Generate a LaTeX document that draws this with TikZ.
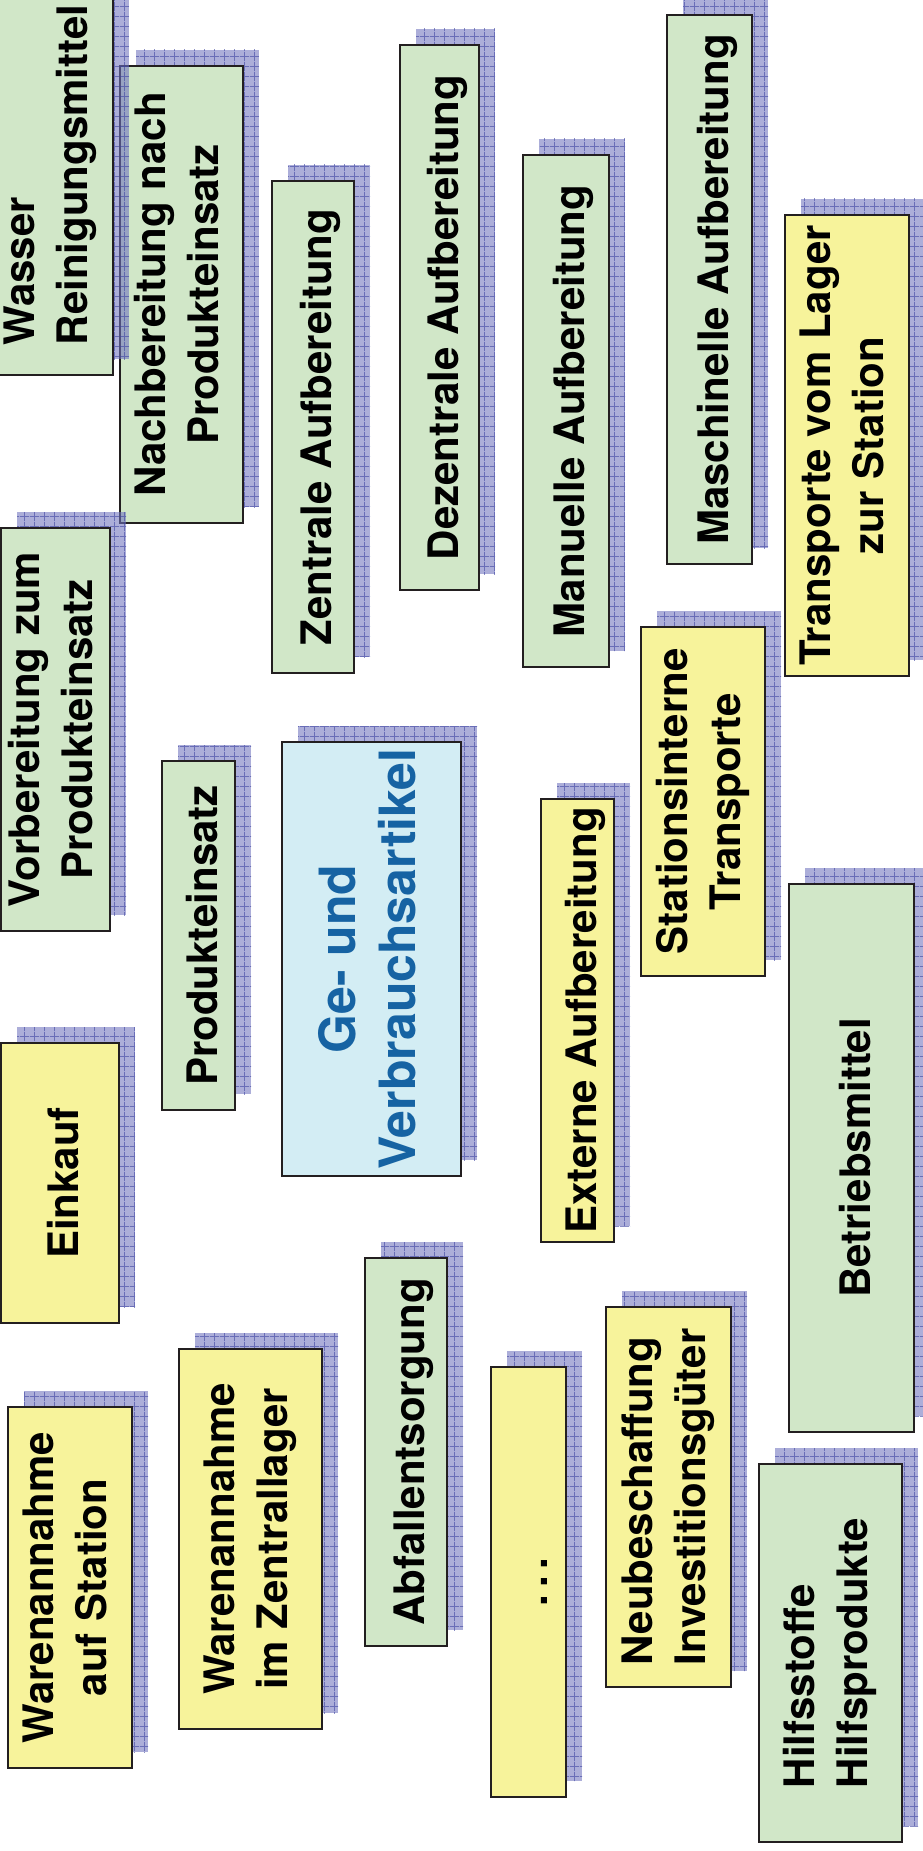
\documentclass[tikz,border=0pt]{standalone}
\usepackage{fontspec}
\setmainfont{TeX Gyre Heros}
\usepackage{tikz}
\usetikzlibrary{patterns.meta}

\definecolor{greenfill}{RGB}{209,231,200}
\definecolor{yellowfill}{RGB}{247,243,155}
\definecolor{bluefill}{RGB}{211,237,244}
\definecolor{bluetext}{RGB}{22,99,163}
\definecolor{boxline}{RGB}{35,31,32}
\definecolor{shadowbase}{RGB}{112,115,190}
\definecolor{gridline}{RGB}{60,66,160}

\tikzdeclarepattern{
  name=shadowgrid,
  type=uncolored,
  bottom left={(0pt,0pt)},
  top right={(10pt,10pt)},
  tile size={(10pt,10pt)},
  code={\draw[line width=0.8pt] (0pt,5pt) -- (10pt,5pt) (5pt,0pt) -- (5pt,10pt);}
}

\begin{document}
\begin{tikzpicture}[x=1pt,y=-1pt]

\tikzset{card/.style={rotate=90, draw=boxline, line width=1.8pt, inner sep=0pt,
    font=\fontsize{42}{53}\selectfont\bfseries, align=center,
    preaction={fill=shadowbase, fill opacity=0.58, transform canvas={shift={(16pt,16pt)}}},
    preaction={pattern=shadowgrid, pattern color=gridline, fill opacity=0.6, transform canvas={shift={(16pt,16pt)}}},
    execute at begin node={\vrule width0pt height47pt depth0pt},
    execute at end node={\vrule width0pt height0pt depth10pt}},
  greencard/.style={card, fill=greenfill},
  yellowcard/.style={card, fill=yellowfill},
  bluecard/.style={card, fill=bluefill, text=bluetext, font=\fontsize{50}{60}\selectfont\bfseries}}

\useasboundingbox (0,0) rectangle (922,1851);

% Aufbereitung
\node[greencard, minimum width=457pt, minimum height=123pt] (nachher) at (181.5,294.5) {Nachbereitung nach\\Produkteinsatz};
\node[greencard, align=left, minimum width=400pt, minimum height=124pt] (wasser) at (51,175) {Wasser\\Reinigungsmittel};
\node[greencard, minimum width=492pt, minimum height=82pt] (zentral) at (313,427) {Zentrale Aufbereitung};
\node[greencard, minimum width=545pt, minimum height=79pt] (dezentral) at (439.5,317.5) {Dezentrale Aufbereitung};
\node[greencard, minimum width=512pt, minimum height=86pt] (manuell) at (566,411) {Manuelle Aufbereitung};
\node[greencard, minimum width=549pt, minimum height=85pt] (maschinell) at (709.5,289.5) {Maschinelle Aufbereitung};
\node[yellowcard, minimum width=461pt, minimum height=124pt] (lager) at (847,445.5) {Transporte vom Lager\\zur Station};

% Mitte
\node[greencard, minimum width=403pt, minimum height=109pt] (vorher) at (55.5,729.5) {Vorbereitung zum\\Produkteinsatz};
\node[greencard, minimum width=349pt, minimum height=73pt] (einsatz) at (198.5,935.5) {Produkteinsatz};
\node[bluecard, minimum width=434pt, minimum height=179pt] (artikel) at (371.5,959) {Ge- und\\Verbrauchsartikel};
\node[yellowcard, minimum width=443pt, minimum height=73pt] (extern) at (577.5,1020.5) {Externe Aufbereitung};
\node[yellowcard, minimum width=349pt, minimum height=124pt] (intern) at (703,801.5) {Stationsinterne\\Transporte};
\node[greencard, minimum width=548pt, minimum height=125pt] (betrieb) at (851.5,1158) {Betriebsmittel};

% Beschaffung
\node[yellowcard, minimum width=280pt, minimum height=118pt] (einkauf) at (60,1183) {Einkauf};
\node[yellowcard, minimum width=361pt, minimum height=124pt] (station) at (70,1587.5) {Warenannahme\\auf Station};
\node[yellowcard, minimum width=380pt, minimum height=143pt] (zentrallager) at (250.5,1539) {Warenannahme\\im Zentrallager};
\node[greencard, minimum width=388pt, minimum height=82pt] (abfall) at (406,1452) {Abfallentsorgung};
\node[yellowcard, minimum width=430pt, minimum height=75pt] (weitere) at (528.5,1582) {.\kern7pt.\kern7pt.};
\node[yellowcard, align=left, minimum width=380pt, minimum height=125pt] (neu) at (668.5,1497) {Neubeschaffung\\Investitionsgüter};
\node[greencard, align=left, minimum width=378pt, minimum height=143pt] (hilf) at (830.5,1653) {Hilfsstoffe\\Hilfsprodukte};

\end{tikzpicture}
\end{document}
